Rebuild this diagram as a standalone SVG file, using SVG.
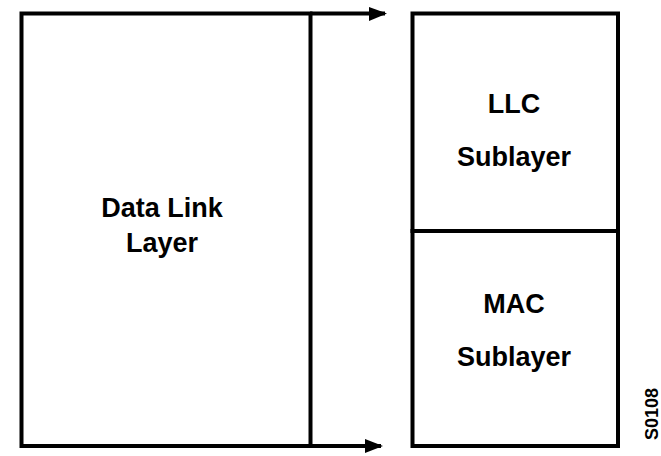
<svg xmlns="http://www.w3.org/2000/svg" width="661" height="456" viewBox="0 0 661 456">
  <defs>
    <style>
      .ln { stroke: #000; stroke-width: 4; fill: none; }
      .lbl { font-family: "Liberation Sans", Arial, sans-serif; font-size: 27px; font-weight: bold; fill: #000; text-anchor: middle; }
      .fig { font-family: "Liberation Sans", Arial, sans-serif; font-size: 18px; font-weight: bold; fill: #000; }
      .ah { fill: #000; }
    </style>
  </defs>
  <rect width="661" height="456" fill="#fff"/>
  <g id="connectors">
    <line class="ln" x1="310" y1="13.5" x2="385" y2="13.5"/>
    <path class="ah" d="M369,7 L387,13.5 L369,21 Z"/>
    <line class="ln" x1="310" y1="446" x2="381" y2="446"/>
    <path class="ah" d="M365,439 L383,446 L365,453 Z"/>
  </g>
  <g id="datalink">
    <rect class="ln" x="21.5" y="13.5" width="289" height="432.5"/>
    <text class="lbl" x="162" y="217">Data Link</text>
    <text class="lbl" x="162" y="252">Layer</text>
  </g>
  <g id="llc">
    <rect class="ln" x="412.5" y="13.5" width="205.5" height="217.5"/>
    <text class="lbl" x="514" y="113">LLC</text>
    <text class="lbl" x="514" y="166">Sublayer</text>
  </g>
  <g id="mac">
    <rect class="ln" x="412.5" y="231" width="205.5" height="215"/>
    <text class="lbl" x="514" y="313">MAC</text>
    <text class="lbl" x="514" y="366">Sublayer</text>
  </g>
  <text class="fig" transform="translate(658,440) rotate(-90)">S0108</text>
</svg>
